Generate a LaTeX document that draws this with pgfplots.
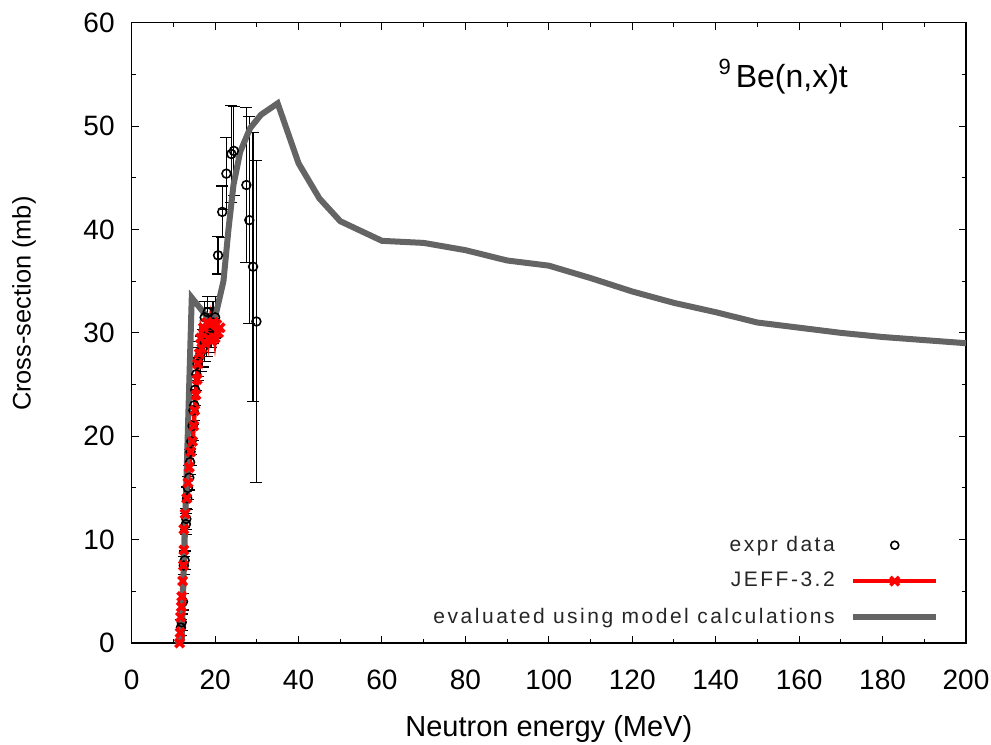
\documentclass[border=0pt]{standalone}
\usepackage{pgfplots}
\pgfplotsset{compat=1.18}
\usepackage{fontspec}
\setmainfont{Liberation Sans}
\newfontfamily\legfont[LetterSpace=12]{Liberation Sans}
\definecolor{modelgrey}{RGB}{100,100,100}
\pgfplotsset{
  redlegend/.style={legend image code/.code={\path[draw=none,fill=none] (0pt,0pt) -- (48.5pt,0pt);\draw[##1,mark repeat=2,mark phase=2] plot coordinates {(7pt,0pt)(28pt,0pt)(48.5pt,0pt)};}},
  greylegend/.style={legend image code/.code={\path[draw=none,fill=none] (0pt,0pt) -- (48.5pt,0pt);\draw[##1] (7pt,0pt) -- (48.5pt,0pt);}},
  circlegend/.style={legend image code/.code={\path[draw=none,fill=none] (0pt,0pt) -- (48.5pt,0pt);\draw[##1,mark size=2pt] plot coordinates {(28pt,0pt)};}},
}
\begin{document}
\begin{tikzpicture}
\begin{axis}[
  scale only axis, width=417.2pt, height=310.2pt,
  xmin=0, xmax=200, ymin=0, ymax=60,
  xtick={0,20,...,200}, ytick={0,10,...,60},
  minor x tick num=1, minor y tick num=1,
  tick align=inside, major tick length=3.5pt, minor tick length=2pt,
  axis line style={line width=0.6pt},
  every tick/.style={black, line width=0.5pt},
  /pgf/number format/assume math mode=true,
  tick label style={font=\fontsize{14}{16}\selectfont},
  xticklabel style={yshift=-10pt},
  yticklabel style={xshift=-5pt},
  xlabel={Neutron energy (MeV)}, ylabel={Cross-section (mb)},
  xlabel style={font=\fontsize{14.5}{16}\selectfont, at={(axis description cs:0.5,-0.1501)}, anchor=base},
  ylabel style={font=\fontsize{12.7}{15}\selectfont, at={(axis description cs:-0.129,0.547)}, anchor=center},
  legend cell align=right, legend plot pos=right,
  legend style={draw=none, fill=none, at={(0.975,0.0136)}, anchor=south east,
    font=\fontsize{10.5}{12}\legfont, row sep=5pt, text=black!85},
]
% experimental data
\addplot[only marks, mark=o, mark size=2.2pt, black, line width=0.8pt, circlegend,
  error bars/.cd, y dir=both, y explicit,
  error mark options={rotate=90, mark size=3pt, line width=0.6pt},
  error bar style={line width=0.6pt}]
  table[x=x, y=y, y error=e] {
x y e
11.8 1.5 0.8
12.0 2.0 0.8
12.3 4.0 0.8
12.5 7.5 0.9
12.7 8.0 0.9
13.0 11.5 1.0
13.1 12.0 1.0
13.3 14.0 1.1
13.5 15.0 1.1
13.8 16.0 1.2
14.0 17.5 1.2
14.1 18.5 1.3
14.3 19.5 1.3
14.6 21.0 1.4
14.8 22.5 1.4
15.0 23.0 1.5
15.2 24.5 1.5
15.5 26.0 1.6
15.8 27.0 1.6
16.0 27.5 1.7
16.5 28.0 1.7
17.0 28.5 1.8
17.5 29.0 1.8
18.0 29.5 1.8
18.5 30.0 1.9
19.0 30.5 1.9
19.5 31.0 2.0
20.0 31.5 2.0
17.5 31.5 1.5
18.2 32.0 1.5
20.7 37.5 1.8
21.7 41.7 2.5
22.7 45.4 3.5
23.9 47.3 4.7
24.5 47.6 4.3
27.5 44.3 7.5
28.2 40.9 10.0
29.1 36.4 13.0
29.9 31.1 15.6
};
\addlegendentry{expr data}
\addplot[red, line width=2.2pt, mark=x, mark size=3pt,
  mark options={line width=1.8pt}, redlegend]
  coordinates {
(11.5,0) (11.6,1) (11.7,2.5) (11.9,3.5) (12.0,4.5) (12.2,6) (12.4,7.5)
(12.5,9) (12.5,11) (12.8,12.5) (13.2,14) (13.5,15.5) (13.8,17) (14.2,18.5)
(14.6,19.5) (14.9,21) (15.1,22.5) (15.4,24) (15.7,25.5) (15.8,27) (16.2,28)
(16.5,29.5) (16.8,28.5) (17.2,30.5) (17.6,29) (18.0,31) (18.4,29.5)
(18.8,30.8) (19.2,29.2) (19.6,31) (20.0,29.5) (20.4,30.8) (20.8,30) (21.2,30.5)
};
\addlegendentry{JEFF-3.2}
\addplot[modelgrey, line width=3pt, no marks, greylegend]
  coordinates {
(10.5,0) (12,0.3) (14.4,33.4) (19.6,30.8) (22,35) (23.2,40) (24.4,44.3)
(26,47.5) (28.4,49.8) (31,51.1) (35,52.2) (40,46.4) (45,43) (50,40.8)
(60,38.9) (70,38.7) (80,38.0) (90,37.0) (100,36.5) (110,35.3) (120,34.0)
(130,32.9) (140,32.0) (150,31.0) (160,30.5) (170,30.0) (180,29.6)
(190,29.3) (200,29.0)
};
\addlegendentry{evaluated using model calculations}
\node[font=\fontsize{16}{18}\selectfont, anchor=base west, inner sep=0pt]
  at (axis cs:140.6,53.7) {\raisebox{6.5pt}{\fontsize{11}{12}\selectfont 9}\hspace{2.5pt}Be(n,x)t};
\end{axis}
\pgfresetboundingbox
\path (-65.85pt,-50.5pt) rectangle (429.7pt,321.55pt);
\end{tikzpicture}
\end{document}
